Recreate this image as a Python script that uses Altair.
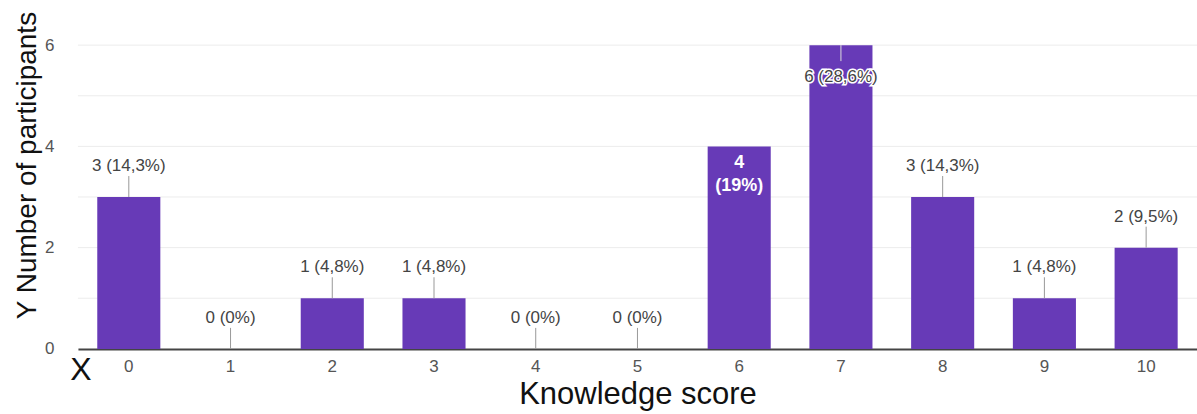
import altair as alt
import pandas as pd

# Knowledge score distribution (count of participants per score)
scores = [0, 1, 2, 3, 4, 5, 6, 7, 8, 9, 10]
counts = [3, 0, 1, 1, 0, 0, 4, 6, 3, 1, 2]
percents = ["14,3%", "0%", "4,8%", "4,8%", "0%", "0%", "19%", "28,6%", "14,3%", "4,8%", "9,5%"]

df = pd.DataFrame({"score": scores, "count": counts, "pct": percents})
df["label"] = df["count"].astype(str) + " (" + df["pct"] + ")"
df["line1"] = df["count"].astype(str)
df["line2"] = "(" + df["pct"] + ")"

PURPLE = "#673AB7"
FONT = "Liberation Sans"
LABEL_SIZE = 17

x_scale = alt.Scale(paddingInner=0.38, paddingOuter=0.19)
y_scale = alt.Scale(domain=[0, 6], nice=False)

axis_style = dict(
    labelFont=FONT,
    labelFontSize=17,
    labelColor="#555",
    titleFont=FONT,
    titleFontWeight="normal",
    titleColor="#111",
)

x_axis = alt.Axis(
    title="Knowledge score",
    titleFontSize=31,
    titleY=46,
    titleBaseline="middle",
    labelAngle=0,
    labelPadding=10,
    ticks=False,
    domainColor="#444",
    domainWidth=2,
    grid=False,
    **axis_style,
)
y_axis = alt.Axis(
    title="Y  Number of participants",
    titleFontSize=28,
    titleAngle=270,
    titleAlign="center",
    titleBaseline="middle",
    titleX=-50,
    titleY=120,
    values=[0, 2, 4, 6],
    labelPadding=24,
    ticks=False,
    domain=False,
    grid=False,
    **axis_style,
)

X = alt.X("score:O", scale=x_scale, axis=x_axis)
Y = alt.Y("count:Q", scale=y_scale, axis=y_axis)

base = alt.Chart(df)

bars = base.mark_bar(color=PURPLE).encode(x=X, y=Y)

# light gridlines at every integer
grid = alt.Chart(pd.DataFrame({"count": [1, 2, 3, 4, 5, 6]})).mark_rule(
    color="#ececec", strokeWidth=1
).encode(y=Y)

outside = alt.FieldOneOfPredicate(field="score", oneOf=[0, 1, 2, 3, 4, 5, 8, 9, 10])

leaders = base.transform_filter(outside).mark_rule(
    color="#999", strokeWidth=1, y2Offset=-21
).encode(x=X, y=Y, y2=alt.Y2("count:Q"))

labels = base.transform_filter(outside).mark_text(
    dy=-31, fontSize=LABEL_SIZE, color="#444", font=FONT, baseline="middle"
).encode(x=X, y=Y, text="label:N")

# score 6: label inside the bar, white bold, two lines
inside_a = base.transform_filter(alt.datum.score == 6).mark_text(
    dy=17, fontSize=18, fontWeight="bold", color="white", font=FONT, baseline="middle"
).encode(x=X, y=Y, text="line1:N")
inside_b = base.transform_filter(alt.datum.score == 6).mark_text(
    dy=40, fontSize=18, fontWeight="bold", color="white", font=FONT, baseline="middle"
).encode(x=X, y=Y, text="line2:N")

# score 7: label pushed inside the bar top, dark text with white halo
top_leader = base.transform_filter(alt.datum.score == 7).mark_rule(
    color="#dddddd", strokeWidth=1, y2Offset=16
).encode(x=X, y=Y, y2=alt.Y2("count:Q"))
top_halo = base.transform_filter(alt.datum.score == 7).mark_text(
    dy=32, fontSize=LABEL_SIZE, color="white", stroke="white", strokeWidth=3,
    font=FONT, baseline="middle"
).encode(x=X, y=Y, text="label:N")
top_text = base.transform_filter(alt.datum.score == 7).mark_text(
    dy=32, fontSize=LABEL_SIZE, color="#444", font=FONT, baseline="middle"
).encode(x=X, y=Y, text="label:N")

# "X" marker to the left of the category labels
x_mark = alt.Chart(pd.DataFrame({"t": ["X"]})).mark_text(
    fontSize=32, color="#111", font=FONT, baseline="middle", align="center"
).encode(x=alt.value(3), y=alt.value(325), text="t:N")

chart = alt.layer(
    grid, bars, leaders, labels, inside_a, inside_b,
    top_leader, top_halo, top_text, x_mark
).properties(
    width=1120,
    height=304,
    background="white",
    autosize=alt.AutoSizeParams(type="none"),
    padding={"left": 78, "top": 45, "right": 0, "bottom": 65},
).configure_view(stroke=None)

chart.save("out.html", embed_options={"renderer": "svg", "actions": False})
